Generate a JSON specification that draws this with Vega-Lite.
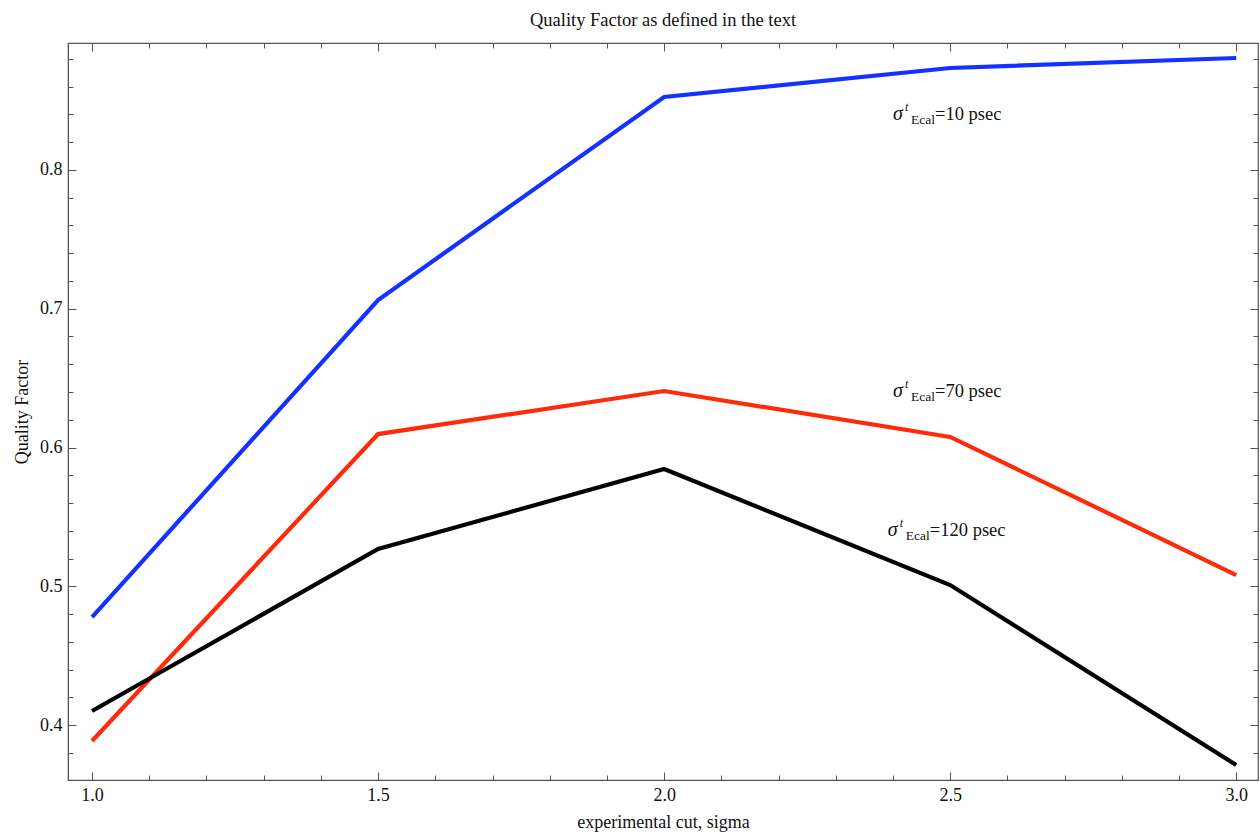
{
  "$schema": "https://vega.github.io/schema/vega-lite/v6.json",
  "autosize": "none",
  "width": 1190,
  "height": 737,
  "padding": {"left": 68, "top": 43, "right": 2, "bottom": 52},
  "background": "white",
  "config": {
    "font": "Liberation Serif",
    "view": {"stroke": "#555", "strokeWidth": 1.2},
    "axis": {"labelFont": "Liberation Serif", "titleFont": "Liberation Serif", "labelColor": "#111", "titleColor": "#111", "titleFontWeight": "normal", "domainColor": "#555", "tickColor": "#555", "grid": false}
  },
  "title": {"text": "Quality Factor as defined in the text", "font": "Liberation Serif", "fontSize": 18.5, "fontWeight": "normal", "color": "#111", "offset": 13},
  "datasets": {
    "curves": [
      {"cut": 1.0, "q": 0.4778, "s": "10"},
      {"cut": 1.5, "q": 0.7063, "s": "10"},
      {"cut": 2.0, "q": 0.8526, "s": "10"},
      {"cut": 2.5, "q": 0.8735, "s": "10"},
      {"cut": 3.0, "q": 0.8807, "s": "10"},
      {"cut": 1.0, "q": 0.3885, "s": "70"},
      {"cut": 1.5, "q": 0.6097, "s": "70"},
      {"cut": 2.0, "q": 0.6407, "s": "70"},
      {"cut": 2.5, "q": 0.6076, "s": "70"},
      {"cut": 3.0, "q": 0.5081, "s": "70"},
      {"cut": 1.0, "q": 0.4101, "s": "120"},
      {"cut": 1.5, "q": 0.5269, "s": "120"},
      {"cut": 2.0, "q": 0.5845, "s": "120"},
      {"cut": 2.5, "q": 0.5009, "s": "120"},
      {"cut": 3.0, "q": 0.3712, "s": "120"}
    ],
    "labels": [
      {"cut": 2.4, "q": 0.836, "sigma": "σ", "sup": "t", "sub": "Ecal", "rest": "=10 psec"},
      {"cut": 2.4, "q": 0.6364, "sigma": "σ", "sup": "t", "sub": "Ecal", "rest": "=70 psec"},
      {"cut": 2.391, "q": 0.536, "sigma": "σ", "sup": "t", "sub": "Ecal", "rest": "=120 psec"}
    ]
  },
  "layer": [
    {
      "data": {"name": "curves"},
      "mark": {"type": "line", "strokeWidth": 4.2, "strokeCap": "butt", "strokeJoin": "miter"},
      "encoding": {
        "x": {"field": "cut", "type": "quantitative", "scale": {"domain": [0.958, 3.038], "nice": false, "zero": false},
          "axis": {"orient": "bottom", "title": "experimental cut, sigma", "titleFontSize": 18, "titlePadding": 9, "labelFontSize": 18, "labelPadding": 14,
            "values": [1.0, 1.1, 1.2, 1.3, 1.4, 1.5, 1.6, 1.7, 1.8, 1.9, 2.0, 2.1, 2.2, 2.3, 2.4, 2.5, 2.6, 2.7, 2.8, 2.9, 3.0],
            "labelExpr": "abs(datum.value*2 - round(datum.value*2)) < 0.001 ? format(datum.value, '.1f') : ''",
            "tickSize": {"condition": {"test": "abs(datum.value*2 - round(datum.value*2)) < 0.001", "value": -8}, "value": -5}}},
        "y": {"field": "q", "type": "quantitative", "scale": {"domain": [0.3604, 0.8915], "nice": false, "zero": false},
          "axis": {"orient": "left", "title": "Quality Factor", "titleFontSize": 18, "titlePadding": 8, "labelFontSize": 18, "labelPadding": 14,
            "values": [0.38, 0.4, 0.42, 0.44, 0.46, 0.48, 0.5, 0.52, 0.54, 0.56, 0.58, 0.6, 0.62, 0.64, 0.66, 0.68, 0.7, 0.72, 0.74, 0.76, 0.78, 0.8, 0.82, 0.84, 0.86, 0.88],
            "labelExpr": "abs(datum.value*10 - round(datum.value*10)) < 0.001 ? format(datum.value, '.1f') : ''",
            "tickSize": {"condition": {"test": "abs(datum.value*10 - round(datum.value*10)) < 0.001", "value": -8}, "value": -5}}},
        "color": {"field": "s", "type": "nominal", "scale": {"domain": ["10", "70", "120"], "range": ["#1432ff", "#ff2a0a", "#000000"]}, "legend": null},
        "detail": {"field": "s"}
      }
    },
    {
      "data": {"name": "labels"},
      "mark": {"type": "text", "align": "left", "baseline": "alphabetic", "fontSize": 20, "fontStyle": "italic", "color": "#111"},
      "encoding": {
        "x": {"field": "cut", "type": "quantitative",
          "axis": {"orient": "top", "title": null, "labels": false, "domain": false,
            "values": [1.0, 1.1, 1.2, 1.3, 1.4, 1.5, 1.6, 1.7, 1.8, 1.9, 2.0, 2.1, 2.2, 2.3, 2.4, 2.5, 2.6, 2.7, 2.8, 2.9, 3.0],
            "tickSize": {"condition": {"test": "abs(datum.value*2 - round(datum.value*2)) < 0.001", "value": -8}, "value": -5}}},
        "y": {"field": "q", "type": "quantitative",
          "axis": {"orient": "right", "title": null, "labels": false, "domain": false,
            "values": [0.38, 0.4, 0.42, 0.44, 0.46, 0.48, 0.5, 0.52, 0.54, 0.56, 0.58, 0.6, 0.62, 0.64, 0.66, 0.68, 0.7, 0.72, 0.74, 0.76, 0.78, 0.8, 0.82, 0.84, 0.86, 0.88],
            "tickSize": {"condition": {"test": "abs(datum.value*10 - round(datum.value*10)) < 0.001", "value": -8}, "value": -5}}},
        "text": {"field": "sigma"}
      }
    },
    {
      "data": {"name": "labels"},
      "mark": {"type": "text", "align": "left", "baseline": "alphabetic", "fontSize": 12, "fontStyle": "italic", "color": "#111", "dx": 12, "dy": -9},
      "encoding": {
        "x": {"field": "cut", "type": "quantitative", "axis": null},
        "y": {"field": "q", "type": "quantitative", "axis": null},
        "text": {"field": "sup"}
      }
    },
    {
      "data": {"name": "labels"},
      "mark": {"type": "text", "align": "left", "baseline": "alphabetic", "fontSize": 13.5, "color": "#111", "dx": 18, "dy": 4},
      "encoding": {
        "x": {"field": "cut", "type": "quantitative", "axis": null},
        "y": {"field": "q", "type": "quantitative", "axis": null},
        "text": {"field": "sub"}
      }
    },
    {
      "data": {"name": "labels"},
      "mark": {"type": "text", "align": "left", "baseline": "alphabetic", "fontSize": 18.5, "color": "#111", "dx": 42},
      "encoding": {
        "x": {"field": "cut", "type": "quantitative", "axis": null},
        "y": {"field": "q", "type": "quantitative", "axis": null},
        "text": {"field": "rest"}
      }
    }
  ],
  "resolve": {"axis": {"x": "independent", "y": "independent"}}
}
